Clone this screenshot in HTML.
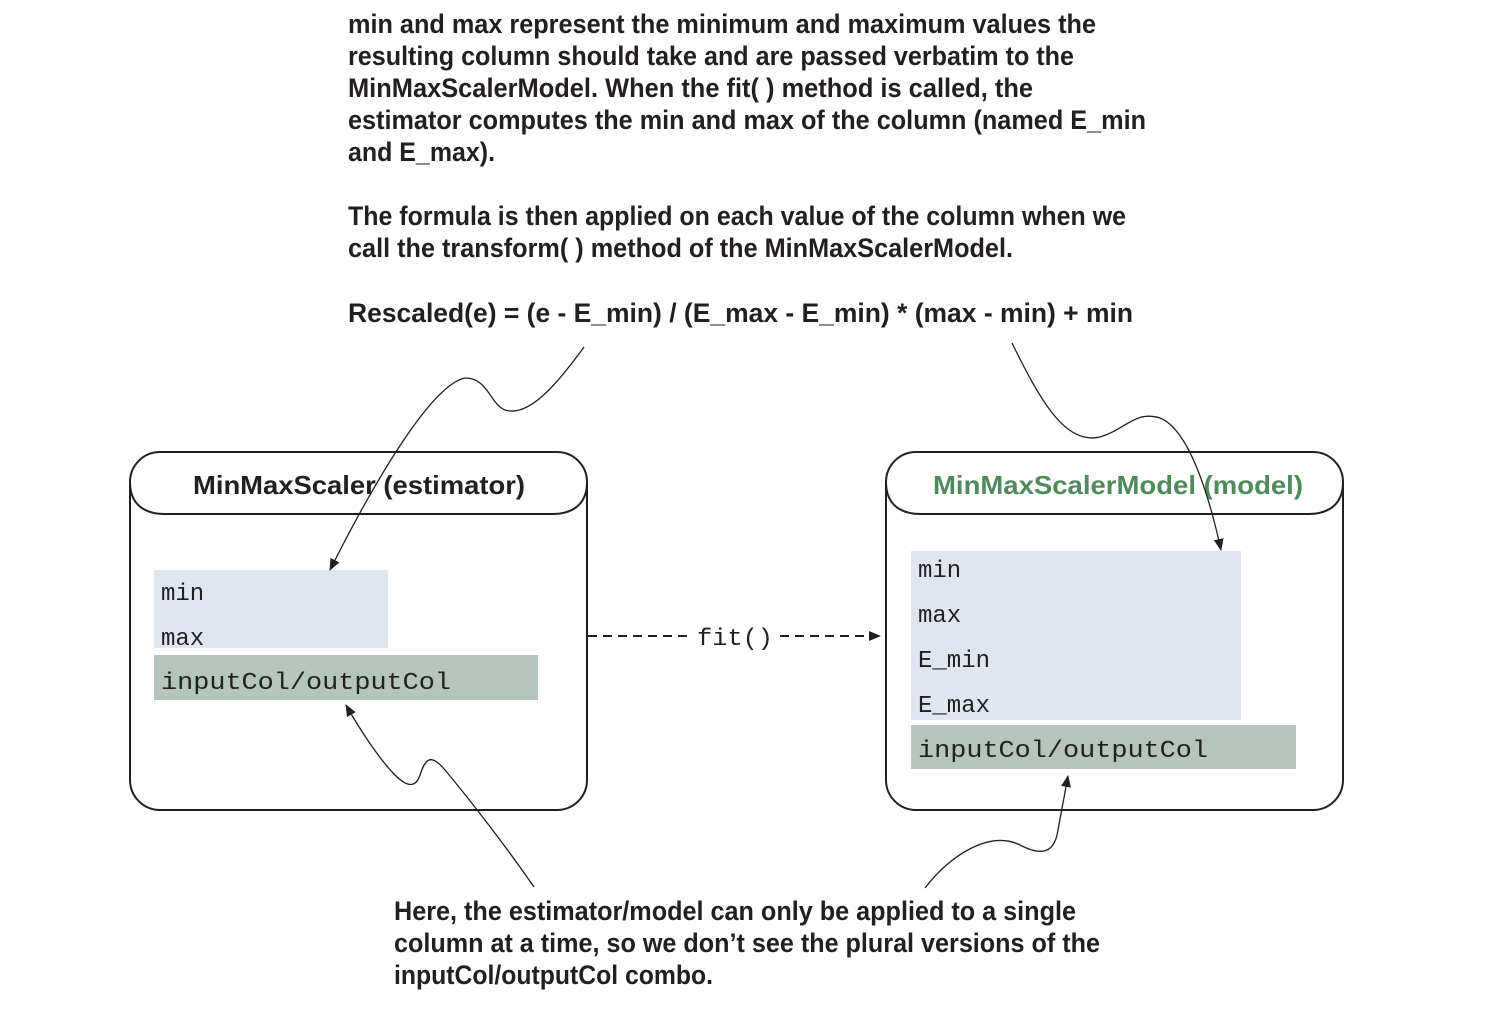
<!DOCTYPE html>
<html><head><meta charset="utf-8"><style>
html,body{margin:0;padding:0;background:#fff;}
svg{display:block;}
.t{font-family:"Liberation Sans Narrow","Liberation Sans",sans-serif;font-weight:bold;font-size:27px;fill:#231f20;}
.h{font-family:"Liberation Sans",sans-serif;font-weight:bold;font-size:26px;}
.m{font-family:"Liberation Mono",monospace;font-size:24px;fill:#231f20;}
</style></head><body>
<svg width="1497" height="1022" viewBox="0 0 1497 1022">
<defs><marker id="ah" markerWidth="12" markerHeight="10" refX="11" refY="5" orient="auto" markerUnits="userSpaceOnUse"><path d="M0,0 L12,5 L0,10 z" fill="#231f20"/></marker></defs>
<g>
<text class="t" x="348" y="33" textLength="748" lengthAdjust="spacingAndGlyphs">min and max represent the minimum and maximum values the</text>
<text class="t" x="348" y="65" textLength="726" lengthAdjust="spacingAndGlyphs">resulting column should take and are passed verbatim to the</text>
<text class="t" x="348" y="97" textLength="685" lengthAdjust="spacingAndGlyphs">MinMaxScalerModel. When the fit( ) method is called, the</text>
<text class="t" x="348" y="129" textLength="798" lengthAdjust="spacingAndGlyphs">estimator computes the min and max of the column (named E_min</text>
<text class="t" x="348" y="161" textLength="147" lengthAdjust="spacingAndGlyphs">and E_max).</text>
<text class="t" x="348" y="225" textLength="778" lengthAdjust="spacingAndGlyphs">The formula is then applied on each value of the column when we</text>
<text class="t" x="348" y="257" textLength="665" lengthAdjust="spacingAndGlyphs">call the transform( ) method of the MinMaxScalerModel.</text>
<text class="t" x="348" y="322" textLength="785" lengthAdjust="spacingAndGlyphs">Rescaled(e) = (e - E_min) / (E_max - E_min) * (max - min) + min</text>
</g>
<g>
<rect x="130" y="452" width="457" height="358" rx="30" fill="#fff" stroke="#231f20" stroke-width="2"/>
<path d="M130,482 C130,505 145,514 165,514 L552,514 C572,514 587,505 587,482" fill="none" stroke="#231f20" stroke-width="2"/>
<text class="h" x="359" y="494" text-anchor="middle" fill="#231f20" textLength="332" lengthAdjust="spacingAndGlyphs">MinMaxScaler (estimator)</text>
<rect x="154" y="570" width="234" height="78" fill="#dfe6ee"/>
<rect x="154" y="655" width="384" height="45" fill="#b5c5bb"/>
<text class="m" x="161" y="600">min</text>
<text class="m" x="161" y="645">max</text>
<text class="m" x="161" y="689" textLength="290" lengthAdjust="spacingAndGlyphs">inputCol/outputCol</text>
</g>
<g>
<rect x="886" y="452" width="457" height="358" rx="30" fill="#fff" stroke="#231f20" stroke-width="2"/>
<path d="M886,482 C886,505 901,514 921,514 L1308,514 C1328,514 1343,505 1343,482" fill="none" stroke="#231f20" stroke-width="2"/>
<text class="h" x="1118" y="494" text-anchor="middle" fill="#4f8a5c" textLength="370" lengthAdjust="spacingAndGlyphs">MinMaxScalerModel (model)</text>
<rect x="911" y="551" width="330" height="169" fill="#dfe6ee"/>
<rect x="911" y="725" width="385" height="44" fill="#b5c5bb"/>
<text class="m" x="918" y="577">min</text>
<text class="m" x="918" y="622">max</text>
<text class="m" x="918" y="667">E_min</text>
<text class="m" x="918" y="712">E_max</text>
<text class="m" x="918" y="757" textLength="290" lengthAdjust="spacingAndGlyphs">inputCol/outputCol</text>
</g>
<g>
<line x1="588" y1="636" x2="690" y2="636" stroke="#231f20" stroke-width="2" stroke-dasharray="9,6"/>
<line x1="780" y1="636" x2="880" y2="636" stroke="#231f20" stroke-width="2" stroke-dasharray="9,6" marker-end="url(#ah)"/>
<text class="m" x="735" y="645" text-anchor="middle" textLength="76" lengthAdjust="spacingAndGlyphs">fit()</text>
</g>
<g fill="none" stroke="#231f20" stroke-width="1.3">
<path d="M584,347 C560,380 530,418 505,410 C490,404 488,378 465,378 C430,385 370,490 330,570" marker-end="url(#ah)"/>
<path d="M1012,343 C1040,400 1065,445 1100,437 C1125,430 1135,410 1160,418 C1190,430 1210,500 1221,550" marker-end="url(#ah)"/>
<path d="M534,887 C505,845 470,800 445,770 C430,752 425,760 420,775 C415,790 405,785 395,775 C380,760 360,730 346,705" marker-end="url(#ah)"/>
<path d="M925,888 C950,855 990,830 1020,845 C1045,858 1055,850 1058,830 L1068,776" marker-end="url(#ah)"/>
</g>
<g>
<text class="t" x="394" y="920" textLength="682" lengthAdjust="spacingAndGlyphs">Here, the estimator/model can only be applied to a single</text>
<text class="t" x="394" y="952" textLength="706" lengthAdjust="spacingAndGlyphs">column at a time, so we don’t see the plural versions of the</text>
<text class="t" x="394" y="984" textLength="319" lengthAdjust="spacingAndGlyphs">inputCol/outputCol combo.</text>
</g>
</svg>
</body></html>
